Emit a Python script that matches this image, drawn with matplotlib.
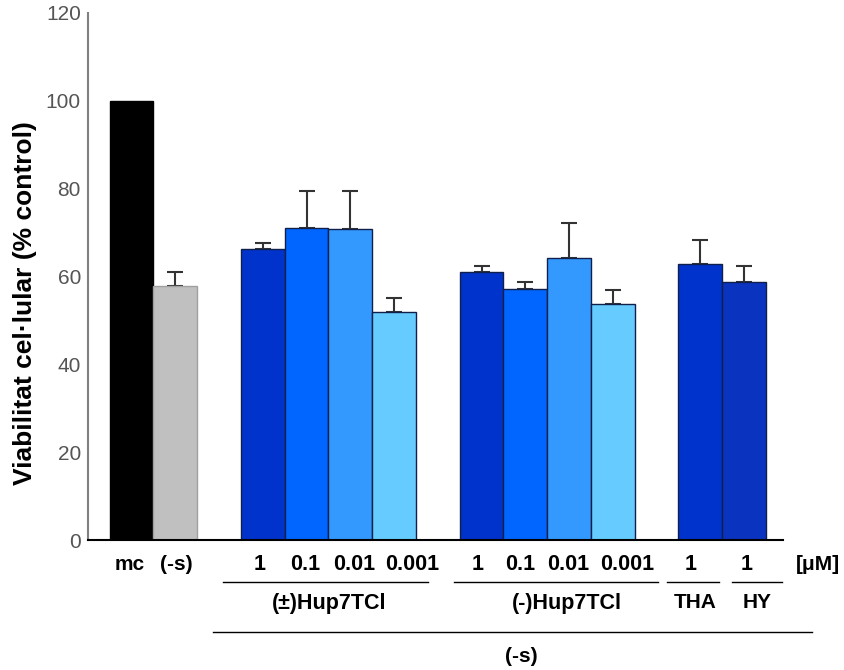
import matplotlib
matplotlib.use('Agg')
import numpy as np
from matplotlib import pyplot as plt
from matplotlib import transforms

plt.rcParams['font.family'] = ['Liberation Sans', 'DejaVu Sans']

# dades
categories = ['mc', '(-s)',
              '(±)1', '(±)0.1', '(±)0.01', '(±)0.001',
              '(-)1', '(-)0.1', '(-)0.01', '(-)0.001',
              'THA1', 'HY1']
xpos = [0, 1, 3, 4, 5, 6, 8, 9, 10, 11, 13, 14]
values = [100, 57.9, 66.3, 71.1, 70.8, 51.9, 61.0, 57.1, 64.1, 53.8, 62.9, 58.7]
errors = [0, 3.1, 1.2, 8.3, 8.6, 3.2, 1.3, 1.6, 8.0, 3.0, 5.4, 3.6]
conc_labels = ['mc', '(-s)', '1', '0.1', '0.01', '0.001',
               '1', '0.1', '0.01', '0.001', '1', '1']
groups = ['(±)Hup7TCl', '(-)Hup7TCl', 'THA', 'HY']

colors = ['#000000', '#c0c0c0',
          '#0033cc', '#0066ff', '#3399ff', '#66ccff',
          '#0033cc', '#0066ff', '#3399ff', '#66ccff',
          '#0033cc', '#0a33c0']
edges = ['#000000', '#a0a0a0'] + ['#10204a'] * 10

fig = plt.figure(figsize=(8.45, 6.7), dpi=100)
ax = fig.add_axes([0.104, 0.194, 0.823, 0.787])

ax.bar(xpos, values, width=1.0, color=colors, edgecolor=edges, linewidth=1.0, zorder=2)
err_x = [x for x, e in zip(xpos, errors) if e > 0]
err_y = [v for v, e in zip(values, errors) if e > 0]
err_e = [e for e in errors if e > 0]
ax.errorbar(err_x, err_y, yerr=[np.zeros(len(err_e)), err_e], fmt='none',
            ecolor='#333333', elinewidth=1.5, capsize=6, capthick=1.5, zorder=1)

ax.set_xlim(-1.0, 14.9)
ax.set_ylim(0, 120)
ax.set_yticks(np.arange(0, 121, 20))
ax.tick_params(axis='y', length=0, pad=5, labelsize=15, labelcolor='#555555')
ax.set_xticks([])
for s in ['top', 'right']:
    ax.spines[s].set_visible(False)
ax.spines['left'].set_color('#808080')
ax.spines['left'].set_linewidth(1.5)
ax.spines['bottom'].set_color('#000000')
ax.spines['bottom'].set_linewidth(1.5)

fig.text(0.029, 0.548, 'Viabilitat cel·lular (% control)', rotation=90,
         ha='center', va='center', fontsize=19, fontweight='bold')

# etiquetes de sota
tr = transforms.blended_transform_factory(ax.transData, fig.transFigure)
shift = [-0.05, 0.02, -0.08, -0.04, 0.08, 0.42, -0.1, -0.11, -0.01, 0.32, -0.21, 0.05]
sizes = [15, 15] + [15.5] * 10
for x, lab, dx, fs in zip(xpos, conc_labels, shift, sizes):
    ax.text(x + dx, 0.157, lab, transform=tr, ha='center', va='center',
            fontsize=fs, fontweight='bold', clip_on=False)
ax.text(15.7, 0.157, '[μM]', transform=tr, ha='center', va='center',
        fontsize=15, fontweight='bold', clip_on=False)

spans = [(2.1, 6.77), (7.36, 12.04), (12.25, 13.42), (13.72, 14.86)]
centers = [4.52, 9.95, 12.88, 14.3]
gsizes = [15.5, 15.5, 15, 15]
for (a, b), c, g, fs in zip(spans, centers, groups, gsizes):
    ax.plot([a, b], [0.131, 0.131], transform=tr, color='black', lw=1.0, clip_on=False)
    ax.text(c, 0.1, g, transform=tr, ha='center', va='center',
            fontsize=fs, fontweight='bold', clip_on=False)

ax.plot([1.86, 15.55], [0.057, 0.057], transform=tr, color='black', lw=1.0, clip_on=False)
ax.text(8.9, 0.02, '(-s)', transform=tr, ha='center', va='center',
        fontsize=15, fontweight='bold', clip_on=False)

plt.savefig('out.png', dpi=100)
